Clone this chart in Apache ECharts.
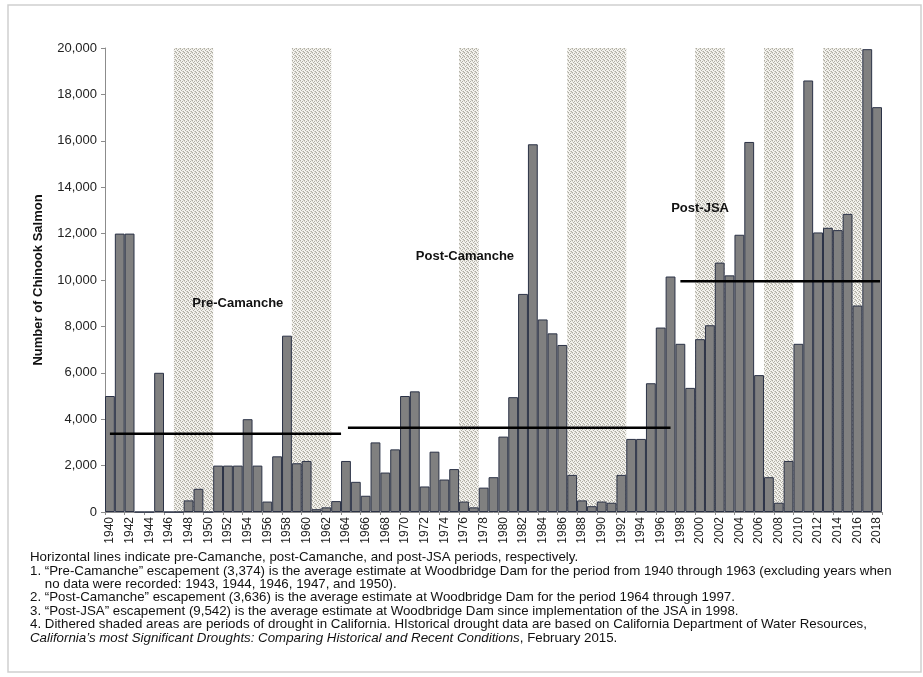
<!DOCTYPE html>
<html>
<head>
<meta charset="utf-8">
<script src="https://cdn.jsdelivr.net/npm/echarts@6/dist/echarts.min.js"></script>
<style>
  html, body { margin: 0; padding: 0; background: #fff; }
  #chart { width: 923px; height: 677px; }
</style>
</head>
<body>
<div id="chart"></div>
<script>
// escapement by year, Woodbridge Dam
const years = [
  '1940', '1941', '1942', '1943', '1944', '1945', '1946', '1947', '1948', '1949',
  '1950', '1951', '1952', '1953', '1954', '1955', '1956', '1957', '1958', '1959',
  '1960', '1961', '1962', '1963', '1964', '1965', '1966', '1967', '1968', '1969',
  '1970', '1971', '1972', '1973', '1974', '1975', '1976', '1977', '1978', '1979',
  '1980', '1981', '1982', '1983', '1984', '1985', '1986', '1987', '1988', '1989',
  '1990', '1991', '1992', '1993', '1994', '1995', '1996', '1997', '1998', '1999',
  '2000', '2001', '2002', '2003', '2004', '2005', '2006', '2007', '2008', '2009',
  '2010', '2011', '2012', '2013', '2014', '2015', '2016', '2017', '2018'
];
const salmon = [
  5000, 12000, 12000, 0, 0, 6000, 0, 0, 500, 1000,
  0, 2000, 2000, 2000, 4000, 2000, 450, 2400, 7600, 2100,
  2200, 120, 200, 470, 2200, 1300, 700, 3000, 1700, 2700,
  5000, 5200, 1100, 2600, 1400, 1850, 450, 200, 1050, 1500,
  3250, 4950, 9400, 15850, 8300, 7700, 7200, 1600, 500, 250,
  450, 400, 1600, 3150, 3150, 5550, 7950, 10150, 7250, 5350,
  7450, 8050, 10750, 10200, 11950, 15950, 5900, 1500, 400, 2200,
  7250, 18600, 12050, 12250, 12150, 12850, 8900, 19950, 17450
];
const yTicks = [0, 2000, 4000, 6000, 8000, 10000, 12000, 14000, 16000, 18000, 20000];

// drought years (first, last) - dithered bands
const droughts = [[1947, 1950], [1959, 1962], [1976, 1977], [1987, 1992], [2000, 2002], [2007, 2009], [2013, 2016]];

// period averages as drawn: [fromYear, toYear, value]
const periodLines = [
  [1940, 1963.5, 3374],
  [1964.2, 1997, 3636],
  [1998, 2018.3, 9950]
];
const periodLabels = [
  ['Pre-Camanche', 1953.0, 9000],
  ['Post-Camanche', 1976.1, 11000],
  ['Post-JSA', 2000.0, 13100]
];

const notes = [
  'Horizontal lines indicate pre-Camanche, post-Camanche, and post-JSA periods, respectively.',
  '1. \u201cPre-Camanche\u201d escapement (3,374) is the average estimate at Woodbridge Dam for the period from 1940 through 1963 (excluding years when',
  '    no data were recorded: 1943, 1944, 1946, 1947, and 1950).',
  '2. \u201cPost-Camanche\u201d escapement (3,636) is the average estimate at Woodbridge Dam for the period 1964 through 1997.',
  '3. \u201cPost-JSA\u201d escapement (9,542) is the average estimate at Woodbridge Dam since implementation of the JSA in 1998.',
  '4. Dithered shaded areas are periods of drought in California. HIstorical drought data are based on California Department of Water Resources,',
  '{i|California\u2019s most Significant Droughts: Comparing Historical and Recent Conditions}, February 2015.'
];

// small dither tile for the drought bands
function ditherTile() {
  const c = document.createElement('canvas');
  c.width = 4; c.height = 4;
  const g = c.getContext('2d');
  g.fillStyle = '#f4f3ee';
  g.fillRect(0, 0, 4, 4);
  g.fillStyle = '#aeaca3';
  [[0, 0], [2, 1], [1, 2], [3, 3]].forEach(p => g.fillRect(p[0], p[1], 1, 1));
  g.fillStyle = '#d3d1c8';
  [[2, 3], [0, 1], [3, 0]].forEach(p => g.fillRect(p[0], p[1], 1, 1));
  return c;
}

const FONT = 'Liberation Sans, Arial, sans-serif';
const NOTE_SIZE = 13.3;
const chart = echarts.init(document.getElementById('chart'), null, { renderer: 'canvas' });

const series = [
  {
    name: 'drought',
    type: 'line',
    xAxisIndex: 1,
    data: [],
    z: 1,
    silent: true,
    markArea: {
      silent: true,
      itemStyle: { color: { image: ditherTile(), repeat: 'repeat' } },
      data: droughts.map(d => [
        { xAxis: d[0] - 0.5, yAxis: 0 },
        { xAxis: d[1] + 0.5, yAxis: 20000 }
      ])
    }
  },
  {
    name: 'Chinook Salmon',
    type: 'bar',
    data: salmon,
    barCategoryGap: 0,
    z: 2,
    itemStyle: { color: '#808080', borderColor: '#2b3246', borderWidth: 1 }
  }
];
periodLines.forEach((p, i) => {
  series.push({
    type: 'line',
    xAxisIndex: 1,
    z: 3,
    symbol: 'none',
    silent: true,
    data: [[p[0], p[2]], [p[1], p[2]]],
    lineStyle: { color: '#000', width: 2.5 },
    markPoint: {
      symbol: 'rect',
      symbolSize: 1,
      itemStyle: { color: 'rgba(0,0,0,0)' },
      label: {
        show: true,
        formatter: periodLabels[i][0],
        fontFamily: FONT,
        fontWeight: 'bold',
        fontSize: 13,
        color: '#111'
      },
      data: [{ coord: [periodLabels[i][1], periodLabels[i][2]] }]
    }
  });
});

const option = {
  animation: false,
  grid: { left: 105, right: 41, top: 48, bottom: 165 },
  xAxis: [
    {
      type: 'category',
      data: years,
      boundaryGap: true,
      axisLine: { lineStyle: { color: '#8c8c8c' } },
      axisTick: { show: true, interval: 1, length: 3, lineStyle: { color: '#8c8c8c' } },
      axisLabel: { interval: 1, rotate: 90, fontFamily: FONT, fontSize: 12, color: '#222', margin: 5 }
    },
    {
      type: 'value',
      min: 1939.5,
      max: 2018.5,
      show: false
    }
  ],
  yAxis: {
    type: 'value',
    min: yTicks[0],
    max: yTicks[yTicks.length - 1],
    interval: 2000,
    name: 'Number of Chinook Salmon',
    nameLocation: 'middle',
    nameGap: 60,
    nameTextStyle: { fontFamily: FONT, fontWeight: 'bold', fontSize: 13, color: '#111' },
    splitLine: { show: false },
    axisLine: { show: true, lineStyle: { color: '#8c8c8c' } },
    axisTick: { show: true, length: 4, lineStyle: { color: '#8c8c8c' } },
    axisLabel: {
      fontFamily: FONT,
      fontSize: 13,
      color: '#222',
      margin: 8,
      formatter: v => v.toLocaleString('en-US')
    }
  },
  graphic: [
    {
      type: 'rect',
      shape: { x: 8, y: 5, width: 913, height: 667 },
      style: { fill: 'none', stroke: '#cfcfcf', lineWidth: 1.5 },
      silent: true
    }
  ].concat(notes.map((t, i) => ({
    type: 'text',
    left: 30,
    top: 551 + i * 13.4,
    silent: true,
    style: {
      text: t,
      fontFamily: FONT,
      fontSize: NOTE_SIZE,
      fill: '#111',
      rich: { i: { fontStyle: 'italic', fontFamily: FONT, fontSize: NOTE_SIZE, fill: '#111' } }
    }
  }))),
  series: series
};

chart.setOption(option);
</script>
</body>
</html>
